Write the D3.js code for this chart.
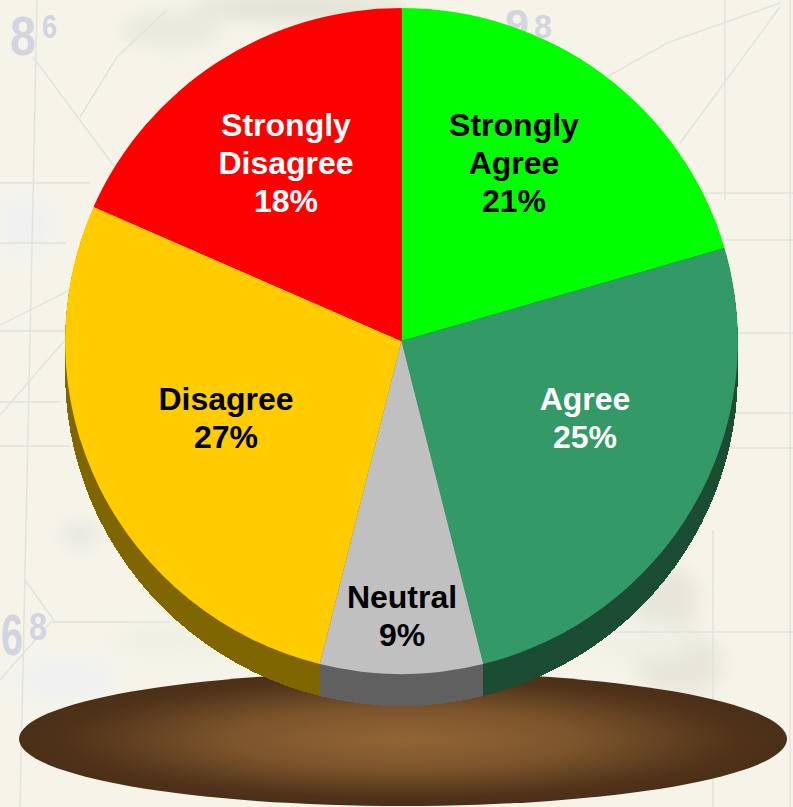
<!DOCTYPE html>
<html>
<head>
<meta charset="utf-8">
<script src="https://cdn.jsdelivr.net/npm/d3@7/dist/d3.min.js"></script>
<style>
html,body{margin:0;padding:0;background:#f5f3e8;overflow:hidden}
svg{display:block}
text{font-family:"Liberation Sans",Arial,sans-serif}
</style>
</head>
<body>
<svg id="c" width="793" height="807"></svg>
<script>
const categories = ["Strongly Agree", "Agree", "Neutral", "Disagree", "Strongly Disagree"];
// Slice sizes as drawn in the picture (they differ slightly from the printed labels)
const sliceSizes = [20.5, 25.6, 7.8, 27.7, 18.4];
const printedPercents = [21, 25, 9, 27, 18];
const topColors = ["#00ff00", "#339966", "#c0c0c0", "#ffcc00", "#ff0000"];
const sideColors = ["#008000", "#1b4d35", "#606060", "#806600", "#800000"];
const labelColors = ["#000", "#fff", "#000", "#000", "#fff"];
const labelLines = [["Strongly","Agree"],["Agree"],["Neutral"],["Disagree"],["Strongly","Disagree"]];
const labelCenters = [[514,163],[585,418],[402,616],[226,418],[286,163]];

const mapLines = [
  "M37,0 L33,200 L24,620 L20,807","M33,57 L117,170","M167,10 L117,57 L80,117","M0,183 L90,183","M0,243 L66,243",
  "M0,331 L66,331","M0,402 L60,402","M0,446 L70,446","M0,325 L70,290","M0,415 L65,340",
  "M607,77 L667,43 L780,3","M680,143 L780,7","M725,0 L725,200","M720,240 L793,240","M690,193 L793,193",
  "M738,333 L793,333","M735,413 L793,413","M728,448 L793,448",
  "M25,580 L55,622","M0,680 L50,623","M50,622 L170,622","M713,530 L713,807","M790,0 L790,807","M610,632 L793,632"
];
const mapPatches = [
  [300,8,110,12,"#e2e1d5"],[170,30,50,18,"#eae9de"],[665,600,35,35,"#e8e6da"],[680,665,45,30,"#e8e6da"],
  [25,225,30,30,"#f0f1f0"],[80,535,18,14,"#e8e7df"],[65,680,50,25,"#f0f1f0"],[180,640,70,15,"#f0f0e5"],[640,640,50,20,"#f0f0e5"]
];
const mapNumbers = [["8",10,55,56,26],["6",42,38,34,15],["9",505,38,40,24],["8",534,38,34,18],["6",1,655,58,22],["8",29,640,38,18]];

const svg = d3.select("#c");
const defs = svg.append("defs");
defs.append("filter").attr("id","soft").attr("x","-50%").attr("y","-50%").attr("width","200%").attr("height","200%")
  .append("feGaussianBlur").attr("stdDeviation",9);
const grad = defs.append("radialGradient").attr("id","disk").attr("cx","50%").attr("cy","50%").attr("r","50%");
grad.append("stop").attr("offset","0%").attr("stop-color","#936535");
grad.append("stop").attr("offset","45%").attr("stop-color","#7d552c");
grad.append("stop").attr("offset","88%").attr("stop-color","#4f3219");
grad.append("stop").attr("offset","100%").attr("stop-color","#4b2f17");

// Map background
const bg = svg.append("g");
bg.append("rect").attr("width",793).attr("height",807).attr("fill","#f6f4e9");
bg.append("g").attr("filter","url(#soft)").selectAll("ellipse").data(mapPatches).join("ellipse")
  .attr("cx",d=>d[0]).attr("cy",d=>d[1]).attr("rx",d=>d[2]).attr("ry",d=>d[3]).attr("fill",d=>d[4]);
bg.selectAll("path").data(mapLines).join("path").attr("d",d=>d)
  .attr("fill","none").attr("stroke","#e2e3dc").attr("stroke-width",1.5);
bg.selectAll("text").data(mapNumbers).join("text")
  .attr("x",d=>d[1]).attr("y",d=>d[2]).attr("font-size",d=>d[3]).attr("font-weight","bold")
  .attr("textLength",d=>d[4]).attr("lengthAdjust","spacingAndGlyphs")
  .attr("fill","#d3d4de").text(d=>d[0]);

// Pedestal
const cx = 401.5, cy = 341, rx = 336.5, ry = 333, depth = 32;
svg.append("ellipse").attr("cx",403).attr("cy",739).attr("rx",384).attr("ry",67).attr("fill","url(#disk)");

// Pie
const pie = d3.pie().sort(null).value(d=>d)(sliceSizes);
const arc = d3.arc().innerRadius(0).outerRadius(1);
const offsets = d3.range(depth, 0, -1);
const stackOrder = [4,0,3,1,2];
const side = svg.append("g").attr("shape-rendering","crispEdges");
stackOrder.forEach(i=>{
  side.append("g").selectAll("path").data(offsets).join("path")
    .attr("transform",d=>`translate(${cx},${cy+d}) scale(${rx},${ry})`)
    .attr("d",arc(pie[i])).attr("fill",sideColors[i]);
});
svg.append("g").selectAll("path").data(pie).join("path")
  .attr("transform",`translate(${cx},${cy}) scale(${rx},${ry})`)
  .attr("d",arc).attr("fill",(d,i)=>topColors[i]);

// Labels
const lh = 38;
const lab = svg.append("g").attr("font-size",32).attr("font-weight","bold").attr("text-anchor","middle");
labelLines.forEach((lines,i)=>{
  const all = lines.concat(printedPercents[i] + "%");
  const t = lab.append("text").attr("fill",labelColors[i]);
  all.forEach((s,j)=>{
    t.append("tspan").attr("x",labelCenters[i][0])
     .attr("y",labelCenters[i][1]+(j-(all.length-1)/2)*lh+11).text(s);
  });
});
</script>
</body>
</html>
